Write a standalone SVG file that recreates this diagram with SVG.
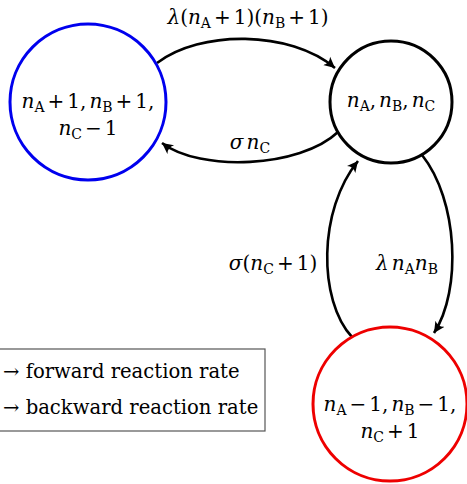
<svg xmlns="http://www.w3.org/2000/svg" width="467" height="484" viewBox="0 0 467 484">
<defs>
<style>
text{font-family:"DejaVu Serif","Liberation Serif",serif;font-size:20px;fill:#000}
.i{font-style:italic}
.s{font-size:14px}
.lg{font-size:19.6px}
.node{fill:#fff;stroke-width:3}
.edge{fill:none;stroke:#000;stroke-width:2.6}
</style>
<marker id="ah" markerWidth="14" markerHeight="14" refX="11" refY="6" orient="auto" markerUnits="userSpaceOnUse">
<path d="M11,6 L0,0.5 Q4,6 0,11.5 Z" fill="#000"/>
</marker>
</defs>
<rect width="467" height="484" fill="#fff"/>
<g id="connectors">
<path class="edge" d="M157,63 C200,30 290,30 335,68" marker-end="url(#ah)"/>
<path class="edge" d="M338,132 C300,168 200,172 162,143" marker-end="url(#ah)"/>
<path class="edge" d="M352,337 C318,300 318,210 358,161" marker-end="url(#ah)"/>
<path class="edge" d="M422,155 C458,200 462,290 434,333" marker-end="url(#ah)"/>
<text x="248" y="24" text-anchor="middle"><tspan class="i">λ</tspan>(<tspan class="i">n</tspan><tspan class="s" dy="4">A</tspan><tspan dy="-4" dx="3">+</tspan><tspan dx="3">1)(</tspan><tspan class="i">n</tspan><tspan class="s" dy="4">B</tspan><tspan dy="-4" dx="3">+</tspan><tspan dx="3">1)</tspan></text>
<text x="250" y="149" text-anchor="middle"><tspan class="i">σ</tspan><tspan class="i" dx="3">n</tspan><tspan class="s" dy="4">C</tspan></text>
<text x="273" y="270" text-anchor="middle"><tspan class="i">σ</tspan>(<tspan class="i">n</tspan><tspan class="s" dy="4">C</tspan><tspan dy="-4" dx="3">+</tspan><tspan dx="3">1)</tspan></text>
<text x="407" y="270" text-anchor="middle"><tspan class="i">λ</tspan><tspan class="i" dx="3">n</tspan><tspan class="s" dy="4">A</tspan><tspan class="i" dy="-4">n</tspan><tspan class="s" dy="4">B</tspan></text>
</g>
<g id="node-left">
<circle class="node" cx="88" cy="102" r="78" stroke="#0000ee"/>
<text x="88" y="108" text-anchor="middle"><tspan class="i">n</tspan><tspan class="s" dy="4">A</tspan><tspan dy="-4" dx="3">+</tspan><tspan dx="3">1,</tspan><tspan class="i" dx="3">n</tspan><tspan class="s" dy="4">B</tspan><tspan dy="-4" dx="3">+</tspan><tspan dx="3">1,</tspan></text>
<text x="88" y="135" text-anchor="middle"><tspan class="i">n</tspan><tspan class="s" dy="4">C</tspan><tspan dy="-4" dx="3">−</tspan><tspan dx="3">1</tspan></text>
</g>
<g id="node-center">
<circle class="node" cx="391" cy="102" r="61" stroke="#000"/>
<text x="391" y="107" text-anchor="middle"><tspan class="i">n</tspan><tspan class="s" dy="4">A</tspan><tspan dy="-4">,</tspan><tspan class="i" dx="3">n</tspan><tspan class="s" dy="4">B</tspan><tspan dy="-4">,</tspan><tspan class="i" dx="3">n</tspan><tspan class="s" dy="4">C</tspan></text>
</g>
<g id="node-bottom">
<circle class="node" cx="390" cy="404" r="77" stroke="#ee0000"/>
<text x="390" y="411" text-anchor="middle"><tspan class="i">n</tspan><tspan class="s" dy="4">A</tspan><tspan dy="-4" dx="3">−</tspan><tspan dx="3">1,</tspan><tspan class="i" dx="3">n</tspan><tspan class="s" dy="4">B</tspan><tspan dy="-4" dx="3">−</tspan><tspan dx="3">1,</tspan></text>
<text x="390" y="438" text-anchor="middle"><tspan class="i">n</tspan><tspan class="s" dy="4">C</tspan><tspan dy="-4" dx="3">+</tspan><tspan dx="3">1</tspan></text>
</g>
<g id="legend">
<rect x="-2" y="349" width="267" height="82" fill="#fff" stroke="#555" stroke-width="1.2"/>
<text class="lg" x="3" y="378">→ forward reaction rate</text>
<text class="lg" x="3" y="414">→ backward reaction rate</text>
</g>
</svg>
